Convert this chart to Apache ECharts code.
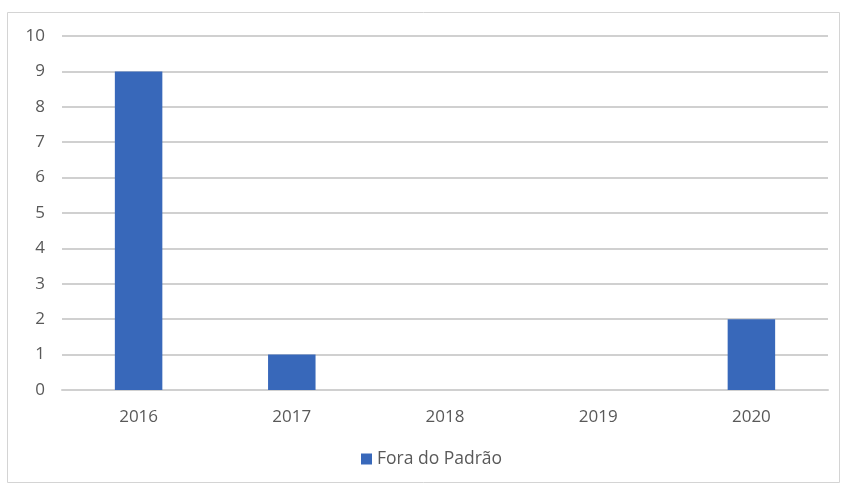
<!DOCTYPE html>
<html><head><meta charset="utf-8">
<script src="https://cdn.jsdelivr.net/npm/echarts@6/dist/echarts.min.js"></script>
<style>html,body{margin:0;padding:0;background:#fff}#c{width:842px;height:485px}</style>
</head><body><div id="c"></div>
<script>
const categories = ['2016','2017','2018','2019','2020'];
const seriesName = 'Fora do Padrão';
const values = [9, 1, 0, 0, 2];
const yTicks = {min: 0, max: 10, interval: 1};

const chart = echarts.init(document.getElementById('c'));
const font = 'Open Sans';
chart.setOption({
  animation: false,
  backgroundColor: '#fff',
  graphic: [{type:'rect', shape:{x:7.5,y:12.5,width:832,height:470}, style:{fill:'none', stroke:'#d4d4d4', lineWidth:1}, silent:true}],
  grid: {left: 62, right: 14, top: 36, bottom: 95, containLabel: false},
  legend: {bottom: 12, left: 356, itemWidth: 11, itemHeight: 11, icon: 'rect', itemGap: 5,
    textStyle: {color: '#595959', fontSize: 17.5, fontFamily: font}, data: [seriesName]},
  xAxis: {type: 'category', data: categories,
    axisLine: {lineStyle: {color: '#d0d0d0', width: 2}}, axisTick: {show: false},
    axisLabel: {color: '#595959', fontSize: 17, fontFamily: font, margin: 19}},
  yAxis: {type: 'value', min: yTicks.min, max: yTicks.max, interval: yTicks.interval,
    axisLine: {show: false}, axisTick: {show: false},
    splitLine: {lineStyle: {color: '#d0d0d0', width: 2}},
    axisLabel: {color: '#595959', fontSize: 17, fontFamily: font, margin: 17}},
  series: [{name: seriesName, type: 'bar', data: values, barWidth: '31%',
    itemStyle: {color: '#3868ba'}}]
});
</script></body></html>
